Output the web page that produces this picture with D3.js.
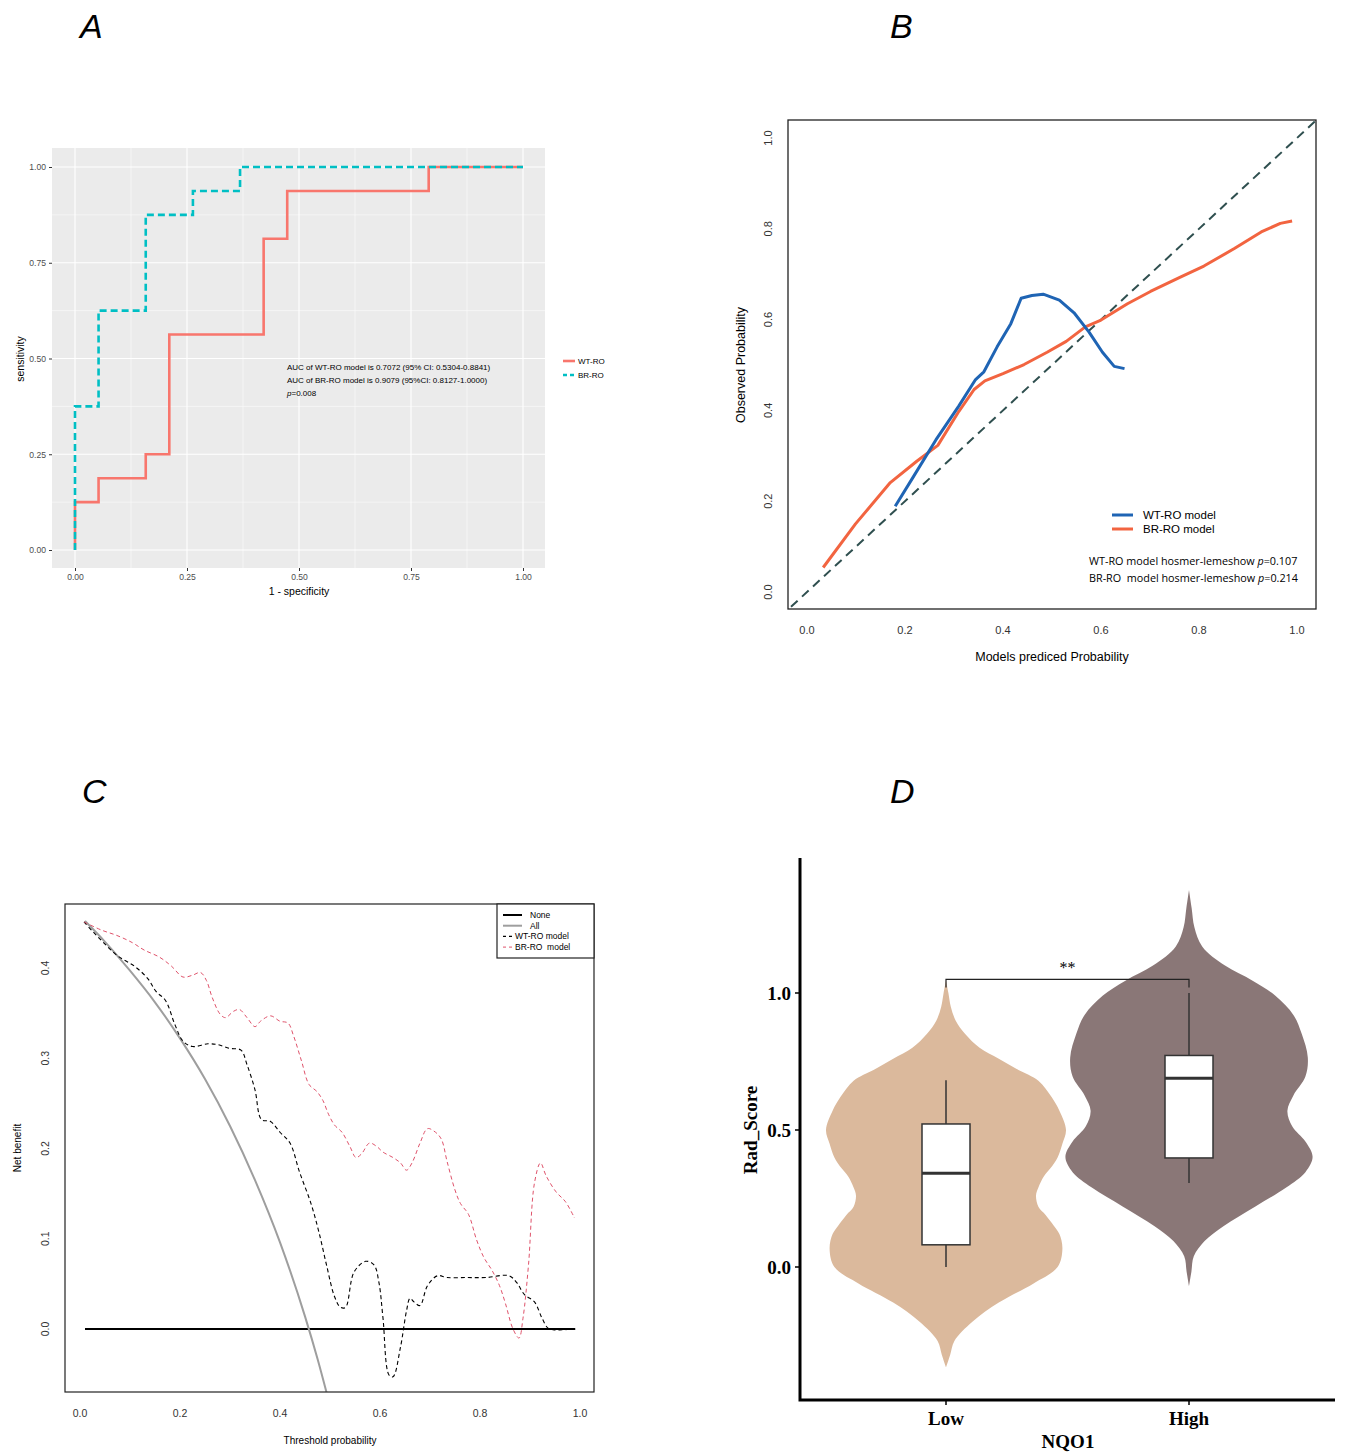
<!DOCTYPE html>
<html>
<head>
<meta charset="utf-8">
<script src="https://cdn.jsdelivr.net/npm/d3@7"></script>
<style>
body{margin:0;background:#fff}
text{font-family:"Liberation Sans",Arial,sans-serif}
</style>
</head>
<body>
<svg id="chart"></svg>
<script>
// figure with 4 panels

W=1347;
H=1454;
var svg=d3.select("#chart").attr("width",W).attr("height",H);
svg.append("rect").attr("width",W).attr("height",H).attr("fill","#fff");

// data

// A - ROC
var rocWtFpr=[0,0,0.0526,0.1579,0.2105,0.4211,0.4737,0.7895,1];
var rocWtTpr=[0,0.125,0.1875,0.25,0.5625,0.8125,0.9375,1,1];
var rocBrFpr=[0,0,0.0526,0.1579,0.2632,0.3684,1];
var rocBrTpr=[0,0.375,0.625,0.875,0.9375,1,1];
var rocTicks=[0,0.25,0.5,0.75,1];
var rocLabels=["AUC of WT-RO model is 0.7072 (95% CI: 0.5304-0.8841)","AUC of BR-RO model is 0.9079 (95%CI: 0.8127-1.0000)"];

// B - calibration
var calWtX=[0.180,0.216,0.263,0.310,0.344,0.361,0.388,0.416,0.437,0.459,0.482,0.515,0.545,0.576,0.603,0.627,0.648];
var calWtY=[0.189,0.252,0.335,0.410,0.468,0.485,0.540,0.591,0.647,0.653,0.656,0.643,0.615,0.572,0.528,0.497,0.492];
var calBrX=[0.033,0.099,0.170,0.224,0.267,0.310,0.341,0.363,0.400,0.443,0.490,0.529,0.568,0.600,0.654,0.701,0.763,0.810,0.873,0.927,0.966,0.990];
var calBrY=[0.054,0.150,0.241,0.288,0.323,0.398,0.446,0.465,0.481,0.501,0.528,0.552,0.584,0.599,0.635,0.662,0.694,0.718,0.757,0.793,0.812,0.817];
var calTicks=[0,0.2,0.4,0.6,0.8,1];

// C - decision curve
var dcaAllX=[0.01,0.05,0.1,0.15,0.2,0.25,0.3,0.35,0.4,0.45,0.475,0.5];
var dcaAllY=[0.452,0.429,0.397,0.362,0.322,0.277,0.225,0.165,0.096,0.014,-0.033,-0.085];
var dcaWtX=[0.008,0.074,0.109,0.136,0.152,0.171,0.190,0.206,0.225,0.256,0.276,0.299,0.322,0.334,0.350,0.363,0.381,0.400,0.420,0.439,0.462,0.478,0.493,0.509,0.521,0.531,0.548,0.571,0.588,0.598,0.606,0.618,0.626,0.641,0.653,0.660,0.668,0.680,0.695,0.715,0.734,0.773,0.812,0.858,0.874,0.889,0.909,0.924,0.936,0.948,0.960,0.991];
var dcaWtY=[0.451,0.414,0.402,0.388,0.374,0.364,0.337,0.319,0.313,0.316,0.315,0.311,0.309,0.293,0.265,0.232,0.230,0.218,0.206,0.174,0.139,0.107,0.071,0.036,0.024,0.024,0.063,0.075,0.071,0.051,0.012,-0.051,-0.053,-0.020,0.020,0.034,0.030,0.026,0.048,0.059,0.057,0.057,0.057,0.059,0.051,0.038,0.030,0.012,0.001,-0.001,-0.001,0.000];
var dcaBrX=[0.008,0.043,0.074,0.105,0.128,0.159,0.183,0.206,0.225,0.241,0.253,0.264,0.280,0.291,0.307,0.319,0.334,0.350,0.361,0.381,0.400,0.416,0.427,0.443,0.458,0.474,0.486,0.497,0.509,0.524,0.540,0.552,0.563,0.579,0.594,0.606,0.626,0.641,0.653,0.664,0.680,0.695,0.711,0.723,0.734,0.750,0.761,0.777,0.793,0.808,0.824,0.839,0.851,0.866,0.878,0.886,0.897,0.909,0.921,0.932,0.952,0.971,0.989];
var dcaBrY=[0.451,0.442,0.436,0.428,0.420,0.412,0.402,0.390,0.392,0.395,0.386,0.368,0.349,0.345,0.352,0.354,0.345,0.335,0.341,0.347,0.341,0.339,0.325,0.297,0.271,0.263,0.253,0.238,0.226,0.218,0.202,0.190,0.194,0.206,0.202,0.196,0.190,0.184,0.176,0.184,0.206,0.222,0.218,0.210,0.186,0.154,0.139,0.127,0.099,0.079,0.065,0.048,0.028,0.000,-0.010,0.012,0.071,0.162,0.184,0.170,0.152,0.141,0.123];
var dcaXTicks=[0,0.2,0.4,0.6,0.8,1];
var dcaYTicks=[0,0.1,0.2,0.3,0.4];

// D - violin
var groups=["Low","High"];
var lowDensY=[1.045,1.0,0.95,0.9,0.85,0.8,0.76,0.72,0.68,0.62,0.57,0.5,0.45,0.40,0.36,0.33,0.29,0.26,0.22,0.19,0.15,0.12,0.067,0.0,-0.06,-0.13,-0.2,-0.27,-0.32,-0.366];
var lowDens=[0,0.02,0.04,0.08,0.16,0.28,0.44,0.6,0.77,0.88,0.945,1.0,0.97,0.93,0.87,0.815,0.77,0.75,0.77,0.83,0.90,0.945,0.97,0.93,0.73,0.44,0.22,0.07,0.035,0];
var highDensY=[1.376,1.31,1.24,1.17,1.10,1.045,0.99,0.92,0.85,0.765,0.695,0.626,0.57,0.514,0.458,0.402,0.346,0.29,0.22,0.15,0.095,0.039,-0.017,-0.07];
var highDens=[0,0.022,0.045,0.11,0.3,0.53,0.72,0.87,0.94,0.99,0.97,0.87,0.82,0.86,0.97,1.03,0.97,0.81,0.55,0.29,0.13,0.04,0.02,0];
var boxLow=[0.0,0.081,0.342,0.522,0.682];   // min q1 median q3 max
var boxHigh=[0.307,0.398,0.689,0.772,1.0];
var violinTicks=[0,0.5,1];

function zip(a,b) {return a.map(function(d,i) {return [d,b[i]];});}

// panel letters
[["A",80,38],["B",890,38],["C",82,803],["D",890,803]].forEach(function(p) {
	svg.append("text").attr("x",p[1]).attr("y",p[2]).text(p[0])
		.style("font-size","34px").style("font-style","italic");
});

// ---------- A ----------
var gA=svg.append("g");
var xA=d3.scaleLinear().domain([0,1]).range([75,523]);
var yA=d3.scaleLinear().domain([0,1]).range([550,167]);
gA.append("rect").attr("x",52).attr("y",148).attr("width",493).attr("height",420).attr("fill","#EBEBEB");
var minorA=[0.125,0.375,0.625,0.875];
gA.selectAll(".mnx").data(minorA).enter().append("line")
	.attr("x1",xA).attr("x2",xA).attr("y1",148).attr("y2",568).style("stroke","#fff").style("stroke-width",0.5);
gA.selectAll(".mny").data(minorA).enter().append("line")
	.attr("y1",yA).attr("y2",yA).attr("x1",52).attr("x2",545).style("stroke","#fff").style("stroke-width",0.5);
gA.selectAll(".mjx").data(rocTicks).enter().append("line")
	.attr("x1",xA).attr("x2",xA).attr("y1",148).attr("y2",568).style("stroke","#fff").style("stroke-width",1.1);
gA.selectAll(".mjy").data(rocTicks).enter().append("line")
	.attr("y1",yA).attr("y2",yA).attr("x1",52).attr("x2",545).style("stroke","#fff").style("stroke-width",1.1);

var stepLine=d3.line().x(function(d) {return xA(d[0]);}).y(function(d) {return yA(d[1]);}).curve(d3.curveStepAfter);
gA.append("path").attr("d",stepLine(zip(rocWtFpr,rocWtTpr)))
	.style("fill","none").style("stroke","#F8766D").style("stroke-width",2.6);
gA.append("path").attr("d",stepLine(zip(rocBrFpr,rocBrTpr)))
	.style("fill","none").style("stroke","#00BFC4").style("stroke-width",2.6).style("stroke-dasharray","7 4");

// axes A
var axA=gA.append("g").attr("transform","translate(0,568)").call(d3.axisBottom(xA).tickValues(rocTicks).tickFormat(d3.format(".2f")).tickSize(3));
var ayA=gA.append("g").attr("transform","translate(52,0)").call(d3.axisLeft(yA).tickValues(rocTicks).tickFormat(d3.format(".2f")).tickSize(3));
[axA,ayA].forEach(function(a) {
	a.select(".domain").remove();
	a.selectAll("line").style("stroke","#333");
	a.selectAll("text").style("fill","#4D4D4D").style("font-size","8.6px").style("font-family","Liberation Sans");
});
gA.append("text").attr("x",299).attr("y",595).attr("text-anchor","middle").style("font-size","10.5px").text("1 - specificity");
gA.append("text").attr("transform","translate(24,359) rotate(-90)").attr("text-anchor","middle").style("font-size","10.5px").text("sensitivity");

rocLabels.forEach(function(t,i) {
	gA.append("text").attr("x",287).attr("y",370+i*13).style("font-size","8px").text(t);
});
var pA=gA.append("text").attr("x",287).attr("y",396).style("font-size","8px");
pA.append("tspan").style("font-style","italic").text("p");
pA.append("tspan").text("=0.008");

// legend A
[["WT-RO","#F8766D",null],["BR-RO","#00BFC4","4 3"]].forEach(function(l,i) {
	var yy=361+i*14;
	gA.append("line").attr("x1",563).attr("x2",575).attr("y1",yy).attr("y2",yy)
		.style("stroke",l[1]).style("stroke-width",2.6).style("stroke-dasharray",l[2]);
	gA.append("text").attr("x",578).attr("y",yy+3).style("font-size","8px").text(l[0]);
});

// ---------- B ----------
var gB=svg.append("g");
var xB=d3.scaleLinear().domain([0,1]).range([807,1297]);
var yB=d3.scaleLinear().domain([0,1]).range([592,138]);
gB.append("clipPath").attr("id","clipB").append("rect").attr("x",788).attr("y",120).attr("width",528).attr("height",489);
var lineB=d3.line().x(function(d) {return xB(d[0]);}).y(function(d) {return yB(d[1]);});
gB.append("path").attr("d",d3.line().x(function(d) {return xB(d);}).y(function(d) {return yB(d);})([-0.1,1.1]))
	.attr("clip-path","url(#clipB)")
	.style("fill","none").style("stroke","#2F4F4F").style("stroke-width",2).style("stroke-dasharray","9 6");
gB.append("path").attr("d",lineB(zip(calBrX,calBrY)))
	.style("fill","none").style("stroke","#F26440").style("stroke-width",3).style("stroke-linejoin","round");
gB.append("path").attr("d",lineB(zip(calWtX,calWtY)))
	.style("fill","none").style("stroke","#1F64B4").style("stroke-width",3).style("stroke-linejoin","round");
gB.append("rect").attr("x",788).attr("y",120).attr("width",528).attr("height",489)
	.style("fill","none").style("stroke","#222").style("stroke-width",1.3);
gB.selectAll(".xt").data(calTicks).enter().append("text")
	.attr("x",xB).attr("y",634).attr("text-anchor","middle").style("font-size","11px").style("fill","#333").text(d3.format(".1f"));
gB.selectAll(".yt").data(calTicks).enter().append("text")
	.attr("transform",function(d) {return "translate(772,"+yB(d)+") rotate(-90)";})
	.attr("text-anchor","middle").style("font-size","11px").style("fill","#333").text(d3.format(".1f"));
gB.append("text").attr("x",1052).attr("y",661).attr("text-anchor","middle").style("font-size","12.5px").text("Models prediced Probability");
gB.append("text").attr("transform","translate(745,365) rotate(-90)").attr("text-anchor","middle").style("font-size","12.5px").text("Observed Probability");
[["WT-RO model","#1F64B4"],["BR-RO model","#F26440"]].forEach(function(l,i) {
	var yy=515+i*14;
	gB.append("line").attr("x1",1112).attr("x2",1133).attr("y1",yy).attr("y2",yy).style("stroke",l[1]).style("stroke-width",3);
	gB.append("text").attr("x",1143).attr("y",yy+4).style("font-size","11.5px").text(l[0]);
});
[["WT-RO model hosmer-lemeshow ","=0.107"],["BR-RO\u00a0 model hosmer-lemeshow ","=0.214"]].forEach(function(l,i) {
	var t=gB.append("text").attr("x",1089).attr("y",565+i*17).style("font-size","10.8px").style("font-family","Open Sans");
	t.append("tspan").text(l[0]);
	t.append("tspan").style("font-style","italic").text("p");
	t.append("tspan").text(l[1]);
});

// ---------- C ----------
var gC=svg.append("g");
var xC=d3.scaleLinear().domain([0,1]).range([80,580]);
var yC=d3.scaleLinear().domain([0,0.4]).range([1329,968]);
gC.append("clipPath").attr("id","clipC").append("rect").attr("x",65).attr("y",904).attr("width",529).attr("height",488);
var lineC=d3.line().x(function(d) {return xC(d[0]);}).y(function(d) {return yC(d[1]);});
gC.append("path").attr("d",lineC([[0.01,0],[0.99,0]]))
	.style("stroke","#000").style("stroke-width",2).style("fill","none");
gC.append("path").attr("d",lineC.curve(d3.curveMonotoneX)(zip(dcaAllX,dcaAllY))).attr("clip-path","url(#clipC)")
	.style("stroke","#9E9E9E").style("stroke-width",2).style("fill","none");
gC.append("path").attr("d",lineC.curve(d3.curveCatmullRom)(zip(dcaWtX,dcaWtY))).attr("clip-path","url(#clipC)")
	.style("stroke","#000").style("stroke-width",1.1).style("fill","none").style("stroke-dasharray","4 3");
gC.append("path").attr("d",lineC.curve(d3.curveCatmullRom)(zip(dcaBrX,dcaBrY))).attr("clip-path","url(#clipC)")
	.style("stroke","#DF536B").style("stroke-width",1).style("fill","none").style("stroke-dasharray","4 3");
gC.append("rect").attr("x",65).attr("y",904).attr("width",529).attr("height",488)
	.style("fill","none").style("stroke","#222").style("stroke-width",1.2);
gC.selectAll(".xt").data(dcaXTicks).enter().append("text")
	.attr("x",xC).attr("y",1417).attr("text-anchor","middle").style("font-size","10.5px").style("fill","#333").text(d3.format(".1f"));
gC.selectAll(".yt").data(dcaYTicks).enter().append("text")
	.attr("transform",function(d) {return "translate(49,"+yC(d)+") rotate(-90)";})
	.attr("text-anchor","middle").style("font-size","10.5px").style("fill","#333").text(d3.format(".1f"));
gC.append("text").attr("x",330).attr("y",1444).attr("text-anchor","middle").style("font-size","10px").text("Threshold probability");
gC.append("text").attr("transform","translate(21,1148) rotate(-90)").attr("text-anchor","middle").style("font-size","10px").text("Net benefit");
// legend C
gC.append("rect").attr("x",497).attr("y",904).attr("width",97).attr("height",54)
	.style("fill","#fff").style("stroke","#222").style("stroke-width",1.2);
[["None","#000",2,null,530],["All","#9E9E9E",2,null,530],["WT-RO model","#000",1.1,"3 3",515],["BR-RO\u00a0 model","#DF536B",1,"3 3",515]].forEach(function(l,i) {
	var yy=915+i*10.7;
	gC.append("line").attr("x1",503).attr("x2",l[4]==530?522:513).attr("y1",yy).attr("y2",yy)
		.style("stroke",l[1]).style("stroke-width",l[2]).style("stroke-dasharray",l[3]);
	gC.append("text").attr("x",l[4]).attr("y",yy+3).style("font-size","8.5px").text(l[0]);
});

// ---------- D ----------
var gD=svg.append("g");
var xD=d3.scalePoint().domain(groups).range([946,1189]);
var yD=d3.scaleLinear().domain([0,1]).range([1267,993]);
var wD=d3.scaleLinear().domain([0,1]).range([0,120]);
var violins=[{g:"Low",y:lowDensY,d:lowDens,fill:"#DBB99C",box:boxLow},{g:"High",y:highDensY,d:highDens,fill:"#8A7777",box:boxHigh}];
violins.forEach(function(v) {
	var cx=xD(v.g);
	var area=d3.area().curve(d3.curveCatmullRom)
		.y(function(d) {return yD(d[0]);})
		.x0(function(d) {return cx-wD(d[1]);})
		.x1(function(d) {return cx+wD(d[1]);});
	gD.append("path").attr("d",area(zip(v.y,v.d))).style("fill",v.fill);
	var b=v.box,bw=24;
	gD.append("line").attr("x1",cx).attr("x2",cx).attr("y1",yD(b[0])).attr("y2",yD(b[4])).style("stroke","#333").style("stroke-width",1.5);
	gD.append("rect").attr("x",cx-bw).attr("width",2*bw).attr("y",yD(b[3])).attr("height",yD(b[1])-yD(b[3]))
		.style("fill","#fff").style("stroke","#333").style("stroke-width",1.5);
	gD.append("line").attr("x1",cx-bw).attr("x2",cx+bw).attr("y1",yD(b[2])).attr("y2",yD(b[2])).style("stroke","#333").style("stroke-width",3);
});
// significance bracket
gD.append("path").attr("d",d3.line()([[xD("Low"),yD(1.02)],[xD("Low"),yD(1.05)],[xD("High"),yD(1.05)],[xD("High"),yD(1.02)]]))
	.style("fill","none").style("stroke","#222").style("stroke-width",1.2);
gD.append("text").attr("x",(xD("Low")+xD("High"))/2).attr("y",yD(1.05)-6).attr("text-anchor","middle")
	.style("font-family","Liberation Serif").style("font-size","16px").text("**");
// axes D
gD.append("path").attr("d","M800,858V1400H1335").style("fill","none").style("stroke","#000").style("stroke-width",3);
gD.selectAll(".xt").data(groups).enter().append("line").attr("x1",xD).attr("x2",xD).attr("y1",1400).attr("y2",1405).style("stroke","#000").style("stroke-width",1.5);
gD.selectAll(".yt").data(violinTicks).enter().append("line").attr("y1",yD).attr("y2",yD).attr("x1",800).attr("x2",795).style("stroke","#000").style("stroke-width",1.5);
gD.selectAll(".xl").data(groups).enter().append("text").attr("x",xD).attr("y",1425).attr("text-anchor","middle")
	.style("font-family","Liberation Serif").style("font-weight","bold").style("font-size","19px").text(function(d) {return d;});
gD.selectAll(".yl").data(violinTicks).enter().append("text").attr("x",791).attr("y",function(d) {return yD(d)+7;}).attr("text-anchor","end")
	.style("font-family","Liberation Serif").style("font-weight","bold").style("font-size","19px").text(d3.format(".1f"));
gD.append("text").attr("x",1068).attr("y",1448).attr("text-anchor","middle")
	.style("font-family","Liberation Serif").style("font-weight","bold").style("font-size","19px").text("NQO1");
gD.append("text").attr("transform","translate(757,1130) rotate(-90)").attr("text-anchor","middle")
	.style("font-family","Liberation Serif").style("font-weight","bold").style("font-size","19px").text("Rad_Score");
</script>
</body>
</html>
